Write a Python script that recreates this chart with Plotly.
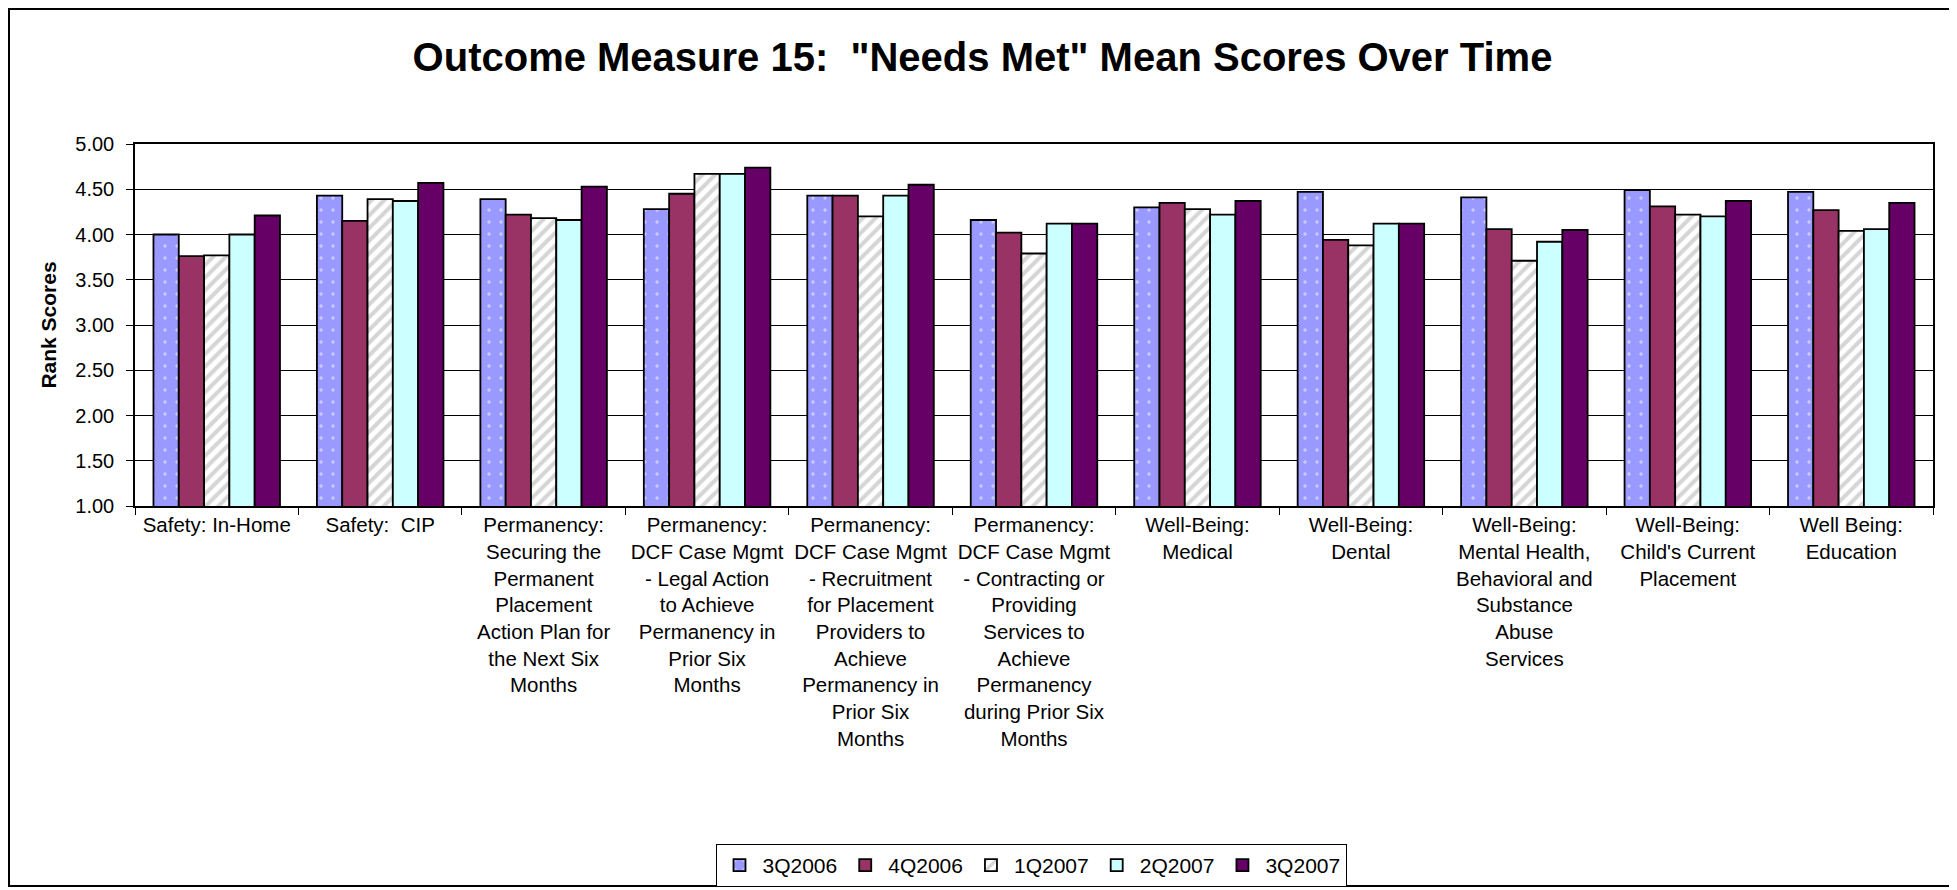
import plotly.graph_objects as go

# categories (x axis)
categories = [
    "Safety: In-Home",
    "Safety:  CIP",
    "Permanency:<br>Securing the<br>Permanent<br>Placement<br>Action Plan for<br>the Next Six<br>Months",
    "Permanency:<br>DCF Case Mgmt<br>- Legal Action<br>to Achieve<br>Permanency in<br>Prior Six<br>Months",
    "Permanency:<br>DCF Case Mgmt<br>- Recruitment<br>for Placement<br>Providers to<br>Achieve<br>Permanency in<br>Prior Six<br>Months",
    "Permanency:<br>DCF Case Mgmt<br>- Contracting or<br>Providing<br>Services to<br>Achieve<br>Permanency<br>during Prior Six<br>Months",
    "Well-Being:<br>Medical",
    "Well-Being:<br>Dental",
    "Well-Being:<br>Mental Health,<br>Behavioral and<br>Substance<br>Abuse<br>Services",
    "Well-Being:<br>Child's Current<br>Placement",
    "Well Being:<br>Education",
]

# series values
q3_2006 = [4.00, 4.43, 4.39, 4.28, 4.43, 4.16, 4.30, 4.47, 4.41, 4.49, 4.47]
q4_2006 = [3.76, 4.15, 4.22, 4.45, 4.43, 4.02, 4.35, 3.94, 4.06, 4.31, 4.27]
q1_2007 = [3.77, 4.39, 4.18, 4.67, 4.20, 3.79, 4.28, 3.88, 3.71, 4.22, 4.04]
q2_2007 = [4.00, 4.37, 4.16, 4.67, 4.43, 4.12, 4.22, 4.12, 3.92, 4.20, 4.06]
q3_2007 = [4.21, 4.57, 4.53, 4.74, 4.55, 4.12, 4.37, 4.12, 4.05, 4.37, 4.35]

series_names = ["3Q2006", "4Q2006", "1Q2007", "2Q2007", "3Q2007"]

# the page body adds an 8px margin, so the figure is a bit smaller
W, H = 1949, 882
ml, mr, mt, mb = 127, 24, 136, 384
pw, ph = W - ml - mr, H - mt - mb

outline = dict(color="black", width=1.8)

fig = go.Figure()

fig.add_trace(go.Bar(
    x=categories, y=q3_2006, name=series_names[0],
    marker=dict(color="#9999FF", line=outline,
                pattern=dict(shape=".", fgcolor="white", bgcolor="#9999FF",
                             size=12, solidity=0.06, fillmode="overlay")),
))
fig.add_trace(go.Bar(
    x=categories, y=q4_2006, name=series_names[1],
    marker=dict(color="#993366", line=outline),
))
fig.add_trace(go.Bar(
    x=categories, y=q1_2007, name=series_names[2],
    marker=dict(color="white", line=outline,
                pattern=dict(shape="/", fgcolor="#ABABAB", bgcolor="white",
                             size=9, solidity=0.45, fillmode="overlay")),
))
fig.add_trace(go.Bar(
    x=categories, y=q2_2007, name=series_names[3],
    marker=dict(color="#CCFFFF", line=outline),
))
fig.add_trace(go.Bar(
    x=categories, y=q3_2007, name=series_names[4],
    marker=dict(color="#660066", line=outline),
))

# pixel (figure coords) -> paper coords
def px_x(p):
    return (p - ml) / pw

def px_y(p):
    return (H - mb - p) / ph

# outer chart border
fig.add_shape(type="rect", xref="paper", yref="paper",
              x0=px_x(1), x1=px_x(1943), y0=px_y(878), y1=px_y(1),
              line=dict(color="black", width=2), fillcolor="rgba(0,0,0,0)")

fig.update_layout(
    width=W, height=H,
    margin=dict(l=ml, r=mr, t=mt, b=mb, autoexpand=False),
    paper_bgcolor="white", plot_bgcolor="white",
    font=dict(family="Liberation Sans, Arial, sans-serif", color="black", size=20),
    title=dict(text='<b>Outcome Measure 15:  "Needs Met" Mean Scores Over Time</b>',
               x=0.5, xref="container", xanchor="center",
               y=1 - 49 / H, yanchor="middle",
               font=dict(size=40, color="black")),
    barmode="group", bargap=0.226, bargroupgap=0,
    showlegend=True,
    legend=dict(orientation="h", x=px_x(1023), xanchor="center",
                y=px_y(836), yanchor="top",
                bordercolor="black", borderwidth=1,
                font=dict(size=21), itemwidth=36,
                traceorder="normal"),
    xaxis=dict(tickson="boundaries", ticks="outside", ticklen=7,
               tickcolor="black", showline=True, linecolor="black",
               linewidth=1.5, mirror=True, tickangle=0,
               tickfont=dict(size=20.5)),
    yaxis=dict(range=[1, 5], dtick=0.5, tickformat=".2f",
               ticks="outside", ticklen=7, tickcolor="black",
               ticklabelstandoff=8,
               showline=True, linecolor="black", linewidth=1.5, mirror=True,
               showgrid=True, gridcolor="black", gridwidth=1,
               tickfont=dict(size=20),
               title=dict(text="<b>Rank Scores</b>", font=dict(size=21), standoff=13)),
)

fig.write_html("out.html")
